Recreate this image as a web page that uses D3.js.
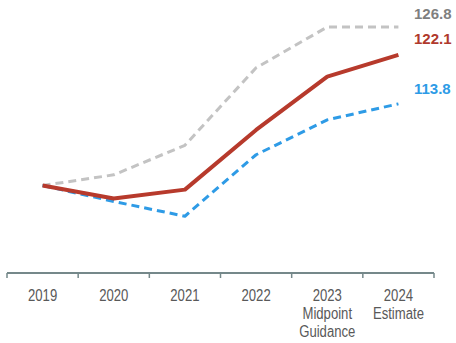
<!DOCTYPE html>
<html>
<head>
<meta charset="utf-8">
<script src="https://cdn.jsdelivr.net/npm/d3@7"></script>
<style>
  html, body { margin: 0; padding: 0; background: #fff; }
  svg { display: block; font-family: "Liberation Sans", Arial, sans-serif; }
</style>
</head>
<body>
<svg id="chart" width="456" height="343"></svg>
<script>
// Category labels (each entry is a list of lines)
const categories = ["2019", "2020", "2021", "2022", "2023", "2024"];
const categoryLines = [["2019"], ["2020"], ["2021"], ["2022"], ["2023", "Midpoint", "Guidance"], ["2024", "Estimate"]];

// Indexed series (2019 = 100)
const highValues = [100, 101.8, 106.8, 119.9, 126.8, 126.8];
const midValues  = [100, 97.8, 99.3, 109.4, 118.4, 122.1];
const lowValues  = [100, 97.3, 94.8, 105.2, 111.1, 113.8];

const endLabels = ["126.8", "122.1", "113.8"];

const svg = d3.select("#chart");

const x = d3.scaleBand().domain(categories).range([7, 434]);
const y = d3.scaleLinear().domain([100, 126.8]).range([185.5, 27]);

const line = d3.line()
  .x((d, i) => x(categories[i]) + x.bandwidth() / 2)
  .y(d => y(d));

const series = [
  { values: highValues, color: "#c3c3c3", width: 3, dash: "8,5", label: endLabels[0], labelColor: "#7f7f7f", labelY: 14 },
  { values: lowValues,  color: "#2e9be6", width: 3, dash: "8,5", label: endLabels[2], labelColor: "#2d9be6", labelY: 89 },
  { values: midValues,  color: "#b73a2c", width: 4, dash: null,  label: endLabels[1], labelColor: "#b0392c", labelY: 39 }
];

series.forEach(s => {
  svg.append("path")
    .datum(s.values)
    .attr("d", line)
    .attr("fill", "none")
    .attr("stroke", s.color)
    .attr("stroke-width", s.width)
    .attr("stroke-linejoin", "round")
    .attr("stroke-dasharray", s.dash);
});

// End-of-line value labels
series.forEach(s => {
  svg.append("text")
    .attr("x", 414)
    .attr("y", s.labelY)
    .attr("dy", "0.35em")
    .attr("fill", s.labelColor)
    .attr("font-size", 15)
    .attr("font-weight", "bold")
    .text(s.label);
});

// Category axis with ticks at band boundaries
const axisY = 273;
const axisG = svg.append("g");
axisG.append("line")
  .attr("x1", x.range()[0]).attr("x2", x.range()[1])
  .attr("y1", axisY).attr("y2", axisY)
  .attr("stroke", "#75888a").attr("stroke-width", 2);

const boundaries = categories.map(c => x(c)).concat([x.range()[1]]);
axisG.selectAll("line.tick")
  .data(boundaries)
  .join("line")
  .attr("class", "tick")
  .attr("x1", d => d).attr("x2", d => d)
  .attr("y1", axisY).attr("y2", axisY + 5)
  .attr("stroke", "#75888a").attr("stroke-width", 1.5);

// Condensed category labels: regular face squeezed horizontally
const labels = axisG.selectAll("g.cat")
  .data(categoryLines)
  .join("g")
  .attr("class", "cat")
  .attr("transform", (d, i) => `translate(${x(categories[i]) + x.bandwidth() / 2},300.5) scale(0.82,1)`)
  .append("text")
  .attr("text-anchor", "middle")
  .attr("fill", "#595959")
  .attr("font-size", 16);

labels.selectAll("tspan")
  .data(d => d)
  .join("tspan")
  .attr("x", 0)
  .attr("dy", (d, i) => i === 0 ? 0 : 18.3)
  .text(d => d);
</script>
</body>
</html>
